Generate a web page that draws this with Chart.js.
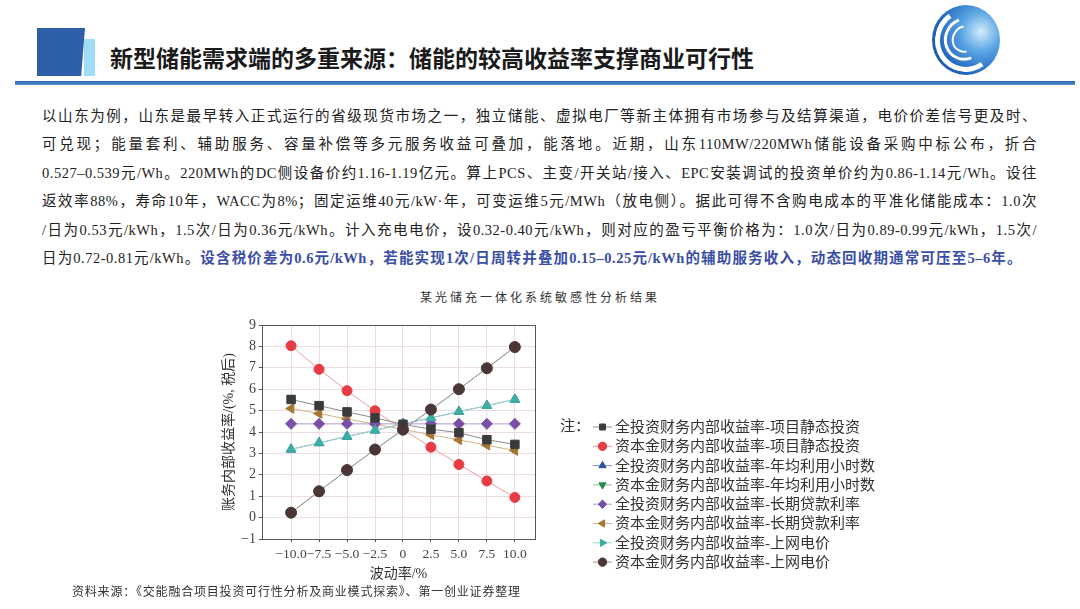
<!DOCTYPE html>
<html>
<head>
<meta charset="utf-8">
<script src="https://cdn.jsdelivr.net/npm/chart.js@4.4.1/dist/chart.umd.min.js"></script>
<style>
  body { margin: 0; width: 1080px; height: 609px; background: #fff; position: relative; overflow: hidden;
         font-family: "Liberation Serif", "Noto Sans CJK SC", serif; color: #222; }
  .abs { position: absolute; }
  #blk { left: 37px; top: 28px; width: 48px; height: 48px; background: #2c5fa8;
         clip-path: polygon(0 0, 100% 0, 92% 100%, 0 100%); }
  #blk2 { left: 84px; top: 39px; width: 11px; height: 37px; background: #9fdcf5; }
  #head { left: 110px; top: 40px; font: bold 23px "Noto Sans CJK SC", sans-serif; color: #1a1a1a; white-space: nowrap; }
  #rule { left: 15px; top: 81px; width: 1060px; height: 4px; background: linear-gradient(#2a64b0, #5c90cf); }
  #logo { left: 932px; top: 5px; width: 68px; height: 70px; border-radius: 50%;
          background: radial-gradient(circle at 72% 38%, #d4ecfb 0%, #5ba6e4 30%, #2368c0 65%, #173f8f 100%); overflow: hidden; }
  #logo .sw { position: absolute; border-radius: 50%; border-style: solid; border-color: #fff;
              border-right-color: transparent; border-top-color: transparent; box-sizing: border-box; }
  .ln { position: absolute; left: 42px; height: 20px; font-size: 14.5px; letter-spacing: 0.5px; white-space: nowrap;
        text-align: justify; text-align-last: justify; color: #222; }
  .blue { color: #3a4ea6; font-weight: bold; }
  #ctitle { left: 340px; top: 288px; width: 400px; text-align: center; font-size: 12px; letter-spacing: 3px; color: #333; }
  #src { left: 72px; top: 582px; font-size: 12px; letter-spacing: 0.8px; color: #333; white-space: nowrap; }
  #cv { left: 215px; top: 305px; }
</style>
</head>
<body>
<div class="abs" id="blk"></div>
<div class="abs" id="blk2"></div>
<div class="abs" id="head">新型储能需求端的多重来源：储能的较高收益率支撑商业可行性</div>
<div class="abs" id="rule"></div>
<div class="abs" id="logo">
  <div class="sw" style="left:3px;top:3px;width:62px;height:64px;border-width:5px;transform:rotate(10deg)"></div>
  <div class="sw" style="left:12px;top:12px;width:42px;height:44px;border-width:3px;transform:rotate(25deg)"></div>
  <div class="sw" style="left:20px;top:20px;width:26px;height:28px;border-width:2px;transform:rotate(35deg)"></div>
</div>

<div class="ln" style="top:104px;width:995px">以山东为例，山东是最早转入正式运行的省级现货市场之一，独立储能、虚拟电厂等新主体拥有市场参与及结算渠道，电价价差信号更及时、</div>
<div class="ln" style="top:132px;width:995px">可兑现；能量套利、辅助服务、容量补偿等多元服务收益可叠加，能落地。近期，山东110MW/220MWh储能设备采购中标公布，折合</div>
<div class="ln" style="top:161px;width:995px">0.527–0.539元/Wh。220MWh的DC侧设备价约1.16-1.19亿元。算上PCS、主变/开关站/接入、EPC安装调试的投资单价约为0.86-1.14元/Wh。设往</div>
<div class="ln" style="top:189px;width:995px">返效率88%，寿命10年，WACC为8%；固定运维40元/kW·年，可变运维5元/MWh（放电侧）。据此可得不含购电成本的平准化储能成本：1.0次</div>
<div class="ln" style="top:218px;width:995px">/日为0.53元/kWh，1.5次/日为0.36元/kWh。计入充电电价，设0.32-0.40元/kWh，则对应的盈亏平衡价格为：1.0次/日为0.89-0.99元/kWh，1.5次/</div>
<div class="ln" style="top:246px;width:980px">日为0.72-0.81元/kWh。<span class="blue">设含税价差为0.6元/kWh，若能实现1次/日周转并叠加0.15–0.25元/kWh的辅助服务收入，动态回收期通常可压至5–6年。</span></div>

<div class="abs" id="ctitle">某光储充一体化系统敏感性分析结果</div>
<canvas class="abs" id="cv" width="675" height="278"></canvas>
<div class="abs" id="src">资料来源：《交能融合项目投资可行性分析及商业模式探索》、第一创业证券整理</div>

<script>
// x 轴：波动率/%
const waveRates = [-10, -7.5, -5, -2.5, 0, 2.5, 5, 7.5, 10];
const yTicks = [-1, 0, 1, 2, 3, 4, 5, 6, 7, 8, 9];

const seriesNames = [
  '全投资财务内部收益率-项目静态投资',
  '资本金财务内部收益率-项目静态投资',
  '全投资财务内部收益率-年均利用小时数',
  '资本金财务内部收益率-年均利用小时数',
  '全投资财务内部收益率-长期贷款利率',
  '资本金财务内部收益率-长期贷款利率',
  '全投资财务内部收益率-上网电价',
  '资本金财务内部收益率-上网电价'
];

const allInvStatic = [5.52, 5.23, 4.94, 4.66, 4.36, 4.13, 3.97, 3.64, 3.42];
const capStatic    = [8.03, 6.93, 5.93, 4.99, 4.11, 3.29, 2.48, 1.71, 0.94];
const allInvHours  = [3.19, 3.49, 3.79, 4.08, 4.38, 4.66, 4.95, 5.23, 5.52];
const capHours     = [0.23, 1.23, 2.22, 3.18, 4.11, 5.05, 6.00, 6.98, 7.97];
const allInvLoan   = [4.38, 4.38, 4.38, 4.38, 4.38, 4.38, 4.38, 4.38, 4.38];
const capLoan      = [5.10, 4.86, 4.61, 4.37, 4.12, 3.87, 3.63, 3.38, 3.13];
const allInvPrice  = [3.19, 3.49, 3.79, 4.08, 4.38, 4.66, 4.95, 5.23, 5.52];
const capPrice     = [0.23, 1.23, 2.22, 3.18, 4.11, 5.05, 6.00, 6.98, 7.97];

function mk(i, data, color, line, style, rot, r, order, legendRot) {
  return {
    label: seriesNames[i],
    data: waveRates.map((x, k) => ({ x: x, y: data[k] })),
    borderColor: line,
    backgroundColor: color,
    pointBackgroundColor: color,
    pointBorderColor: color,
    pointStyle: style,
    rotation: rot,
    pointRadius: r,
    borderWidth: 1,
    order: order,
    legendRot: legendRot === undefined ? rot : legendRot
  };
}

const datasets = [
  mk(0, allInvStatic, '#3b3b3b', '#8c8c8c', 'rect', 0, 6, 1),
  mk(1, capStatic, '#e63c44', '#eb9ca0', 'circle', 0, 5, 1),
  mk(2, allInvHours, '#2f4f9f', '#8090c8', 'triangle', 0, 5.5, 6),
  mk(3, capHours, '#2f8a4a', '#88c09a', 'triangle', 180, 5.5, 6),
  mk(4, allInvLoan, '#7a4fa8', '#b49ad0', 'rectRot', 0, 5.5, 2),
  mk(5, capLoan, '#a67634', '#d2b488', 'triangle', -90, 5.5, 2),
  mk(6, allInvPrice, '#3aafa2', '#9cd8d0', 'triangle', 0, 5.5, 1, 90),
  mk(7, capPrice, '#4a3636', '#a09494', 'circle', 0, 5.5, 0)
];

const minus = s => String(s).replace('-', '\u2212');

const framePlugin = {
  id: 'frame',
  afterDraw(chart) {
    const { ctx, chartArea: a } = chart;
    ctx.save();
    ctx.strokeStyle = '#555';
    ctx.lineWidth = 1;
    ctx.strokeRect(a.left + 0.5, a.top + 0.5, a.right - a.left, a.bottom - a.top);
    ctx.restore();
  }
};

const legendPlugin = {
  id: 'noteLegend',
  afterDraw(chart) {
    const ctx = chart.ctx;
    const x0 = 378, y0 = 122, step = 19.3;
    ctx.save();
    ctx.font = '15px "Liberation Serif", "Noto Sans CJK SC", serif';
    ctx.fillStyle = '#333';
    ctx.textBaseline = 'middle';
    ctx.fillText('注：', 345, y0);
    chart.data.datasets.forEach((ds, i) => {
      const y = y0 + i * step;
      ctx.strokeStyle = ds.borderColor;
      ctx.lineWidth = 1;
      ctx.beginPath();
      ctx.moveTo(x0, y);
      ctx.lineTo(x0 + 19, y);
      ctx.stroke();
      ctx.fillStyle = ds.pointBackgroundColor;
      ctx.strokeStyle = ds.pointBackgroundColor;
      Chart.helpers.drawPoint(ctx, { pointStyle: ds.pointStyle, rotation: ds.legendRot, radius: 4.2, borderWidth: 1 }, x0 + 9.5, y);
      ctx.fillStyle = '#333';
      ctx.fillText(ds.label, x0 + 22, y + 1);
    });
    ctx.restore();
  }
};

Chart.defaults.font.family = '"Liberation Serif", "Noto Sans CJK SC", serif';
Chart.defaults.color = '#444';

new Chart(document.getElementById('cv'), {
  type: 'line',
  data: { datasets: datasets },
  options: {
    responsive: false,
    animation: false,
    layout: { padding: { left: 0, top: 20, right: 355, bottom: 0 } },
    plugins: { legend: { display: false }, tooltip: { enabled: false } },
    scales: {
      x: {
        type: 'linear',
        min: -12.6,
        max: 11.8,
        afterBuildTicks: s => { s.ticks = waveRates.map(v => ({ value: v })); },
        afterFit: s => { s.height = 44; },
        grid: { color: '#ecdbe5', tickLength: 3, tickColor: '#555' },
        border: { color: '#555' },
        ticks: { font: { size: 13.5 }, color: '#444', padding: 4, maxRotation: 0, autoSkip: false,
                 callback: v => v === 0 ? '0' : minus(v.toFixed(1)) },
        title: { display: true, text: '波动率/%', font: { size: 14 }, color: '#333', padding: { top: 0, bottom: 0 } }
      },
      y: {
        min: -1,
        max: 9,
        afterBuildTicks: s => { s.ticks = yTicks.map(v => ({ value: v })); },
        afterFit: s => { s.width = 47; },
        grid: { color: '#ecdbe5', tickLength: 3, tickColor: '#555' },
        border: { color: '#555' },
        ticks: { font: { size: 14 }, color: '#444', padding: 3, callback: v => minus(v) },
        title: { display: true, text: '账务内部收益率/(%, 税后)', font: { size: 14 }, color: '#333', padding: { top: 6, bottom: 0 } }
      }
    }
  },
  plugins: [framePlugin, legendPlugin]
});
</script>
</body>
</html>
